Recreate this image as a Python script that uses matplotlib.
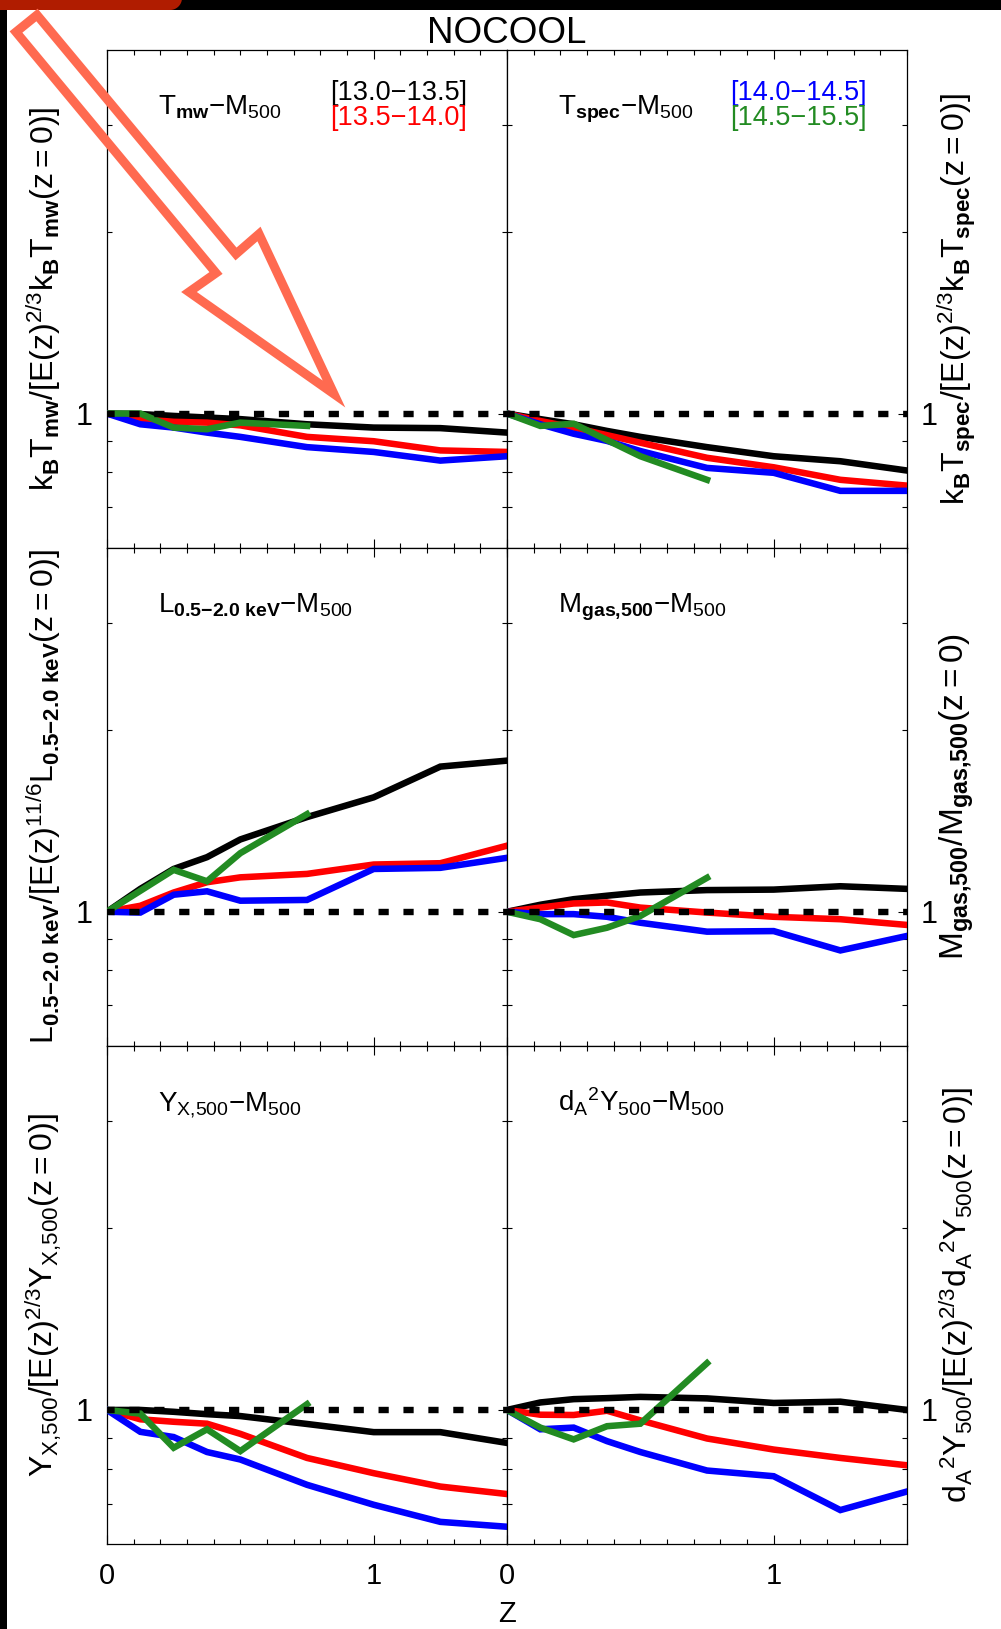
import numpy as np
import matplotlib
matplotlib.use("Agg")
import matplotlib.pyplot as plt
from matplotlib.ticker import FixedLocator, FixedFormatter, MultipleLocator, NullFormatter
from matplotlib.patches import Polygon, Rectangle

# ---------------------------------------------------------------- data
z = [0.0, 0.125, 0.25, 0.375, 0.5, 0.75, 1.0, 1.25, 1.5]
z_hi = [0.0, 0.125, 0.25, 0.375, 0.5, 0.75]   # most massive bin stops at z=0.75

mass_bins = ["[13.0\u221213.5]", "[13.5\u221214.0]", "[14.0\u221214.5]", "[14.5\u221215.5]"]
bin_colors = ["black", "#FF0000", "#0000FF", "#228B22"]

tmw_b = [1.0, 0.998, 0.991, 0.985, 0.979, 0.960, 0.948, 0.946, 0.930]
tmw_r = [1.0, 0.979, 0.969, 0.966, 0.956, 0.915, 0.900, 0.869, 0.864]
tmw_u = [1.0, 0.960, 0.948, 0.930, 0.915, 0.880, 0.864, 0.836, 0.850]
tmw_g = [1.0, 1.0, 0.948, 0.942, 0.966, 0.954]

tsp_b = [1.0, 0.979, 0.960, 0.936, 0.915, 0.880, 0.850, 0.834, 0.805]
tsp_r = [1.0, 0.972, 0.948, 0.921, 0.895, 0.845, 0.815, 0.777, 0.760]
tsp_u = [1.0, 0.960, 0.926, 0.901, 0.867, 0.813, 0.798, 0.745, 0.745]
tsp_g = [1.0, 0.954, 0.962, 0.904, 0.850, 0.777]

lx_b = [1.0, 1.091, 1.177, 1.231, 1.317, 1.434, 1.546, 1.738, 1.778]
lx_r = [1.0, 1.023, 1.076, 1.119, 1.140, 1.155, 1.197, 1.203, 1.286]
lx_u = [1.0, 0.997, 1.067, 1.081, 1.043, 1.046, 1.177, 1.182, 1.228]
lx_g = [1.0, 1.083, 1.173, 1.123, 1.250, 1.450]

mg_b = [1.0, 1.027, 1.049, 1.063, 1.076, 1.086, 1.088, 1.102, 1.091]
mg_r = [1.0, 1.016, 1.032, 1.036, 1.016, 0.997, 0.981, 0.972, 0.951]
mg_u = [1.0, 0.991, 0.991, 0.981, 0.959, 0.927, 0.929, 0.863, 0.912]
mg_g = [1.0, 0.972, 0.915, 0.941, 0.984, 1.138]

yx_b = [1.0, 1.0, 0.993, 0.984, 0.977, 0.948, 0.919, 0.919, 0.882]
yx_r = [1.0, 0.965, 0.956, 0.949, 0.913, 0.833, 0.786, 0.747, 0.726]
yx_u = [1.0, 0.920, 0.902, 0.852, 0.828, 0.752, 0.697, 0.653, 0.641]
yx_g = [1.0, 0.986, 0.866, 0.929, 0.855, 1.022]

ysz_b = [1.0, 1.029, 1.042, 1.046, 1.051, 1.045, 1.027, 1.032, 1.0]
ysz_r = [1.0, 0.982, 0.981, 0.997, 0.961, 0.897, 0.860, 0.833, 0.810]
ysz_u = [1.0, 0.929, 0.935, 0.888, 0.852, 0.794, 0.777, 0.683, 0.733]
ysz_g = [1.0, 0.935, 0.894, 0.940, 0.949, 1.195]

panel_titles = [
    r"$\mathrm{T_{\mathbf{mw}}{-}M_{500}}$",
    r"$\mathrm{T_{\mathbf{spec}}{-}M_{500}}$",
    r"$\mathrm{L_{\mathbf{0.5{-}2.0\ keV}}{-}M_{500}}$",
    r"$\mathrm{M_{\mathbf{gas{,}500}}{-}M_{500}}$",
    r"$\mathrm{Y_{X{,}500}{-}M_{500}}$",
    r"$\mathrm{d_A{}^2Y_{500}{-}M_{500}}$",
]
y_labels = [
    r"$\mathrm{k_{\mathbf{B}}T_{\mathbf{mw}}/[E(z)^{2/3}k_{\mathbf{B}}T_{\mathbf{mw}}(z{=}0)]}$",
    r"$\mathrm{k_{\mathbf{B}}T_{\mathbf{spec}}/[E(z)^{2/3}k_{\mathbf{B}}T_{\mathbf{spec}}(z{=}0)]}$",
    r"$\mathrm{L_{\mathbf{0.5{-}2.0\ keV}}/[E(z)^{11/6}L_{\mathbf{0.5{-}2.0\ keV}}(z{=}0)]}$",
    r"$\mathrm{M_{\mathbf{gas{,}500}}/M_{\mathbf{gas{,}500}}(z{=}0)}$",
    r"$\mathrm{Y_{X{,}500}/[E(z)^{2/3}Y_{X{,}500}(z{=}0)]}$",
    r"$\mathrm{d_A{}^2Y_{500}/[E(z)^{2/3}d_A{}^2Y_{500}(z{=}0)]}$",
]
y_label_size = [23, 23, 23, 24, 23, 23]
panel_series = [
    (tmw_b, tmw_r, tmw_u, tmw_g),
    (tsp_b, tsp_r, tsp_u, tsp_g),
    (lx_b, lx_r, lx_u, lx_g),
    (mg_b, mg_r, mg_u, mg_g),
    (yx_b, yx_r, yx_u, yx_g),
    (ysz_b, ysz_r, ysz_u, ysz_g),
]

# ---------------------------------------------------------------- fonts
FONT = "Liberation Sans"
plt.rcParams["font.family"] = [FONT, "DejaVu Sans"]
plt.rcParams["mathtext.fontset"] = "custom"
plt.rcParams["mathtext.rm"] = FONT
plt.rcParams["mathtext.it"] = FONT
plt.rcParams["mathtext.sf"] = FONT
plt.rcParams["mathtext.bf"] = FONT + ":bold"

W, H = 1001, 1629
fig = plt.figure(figsize=(W / 100, H / 100), dpi=100)
fig.patch.set_facecolor("white")


def fx(px):
    return px / W


def fy(py):
    return 1 - py / H


# ---------------------------------------------------------------- panels
left_x = [107, 507]
panel_w = 400
top_y = [49.5, 547.7, 1045.9]
panel_h = 498.2

axes = []
for row in range(3):
    for col in range(2):
        ax = fig.add_axes([fx(left_x[col]), fy(top_y[row] + panel_h),
                           fx(panel_w), panel_h / H])
        axes.append(ax)

for i, ax in enumerate(axes):
    row, col = divmod(i, 2)
    blk, red, blu, grn = panel_series[i]
    for ys, c in zip((blk, red, blu), bin_colors[:3]):
        ax.plot(z, ys, color=c, lw=4.7, solid_joinstyle="miter", zorder=3)
    ax.plot(z_hi, grn, color=bin_colors[3], lw=4.7, solid_joinstyle="miter", zorder=4)
    ax.axhline(1.0, color="black", lw=4.6, ls=(0.4, (1.6, 2.3)), zorder=5)

    ax.set_yscale("log")
    ax.set_ylim(0.6, 4.0)
    ax.set_xlim(0, 1.5)
    ax.yaxis.set_major_locator(FixedLocator([1.0]))
    ax.yaxis.set_major_formatter(FixedFormatter(["1"]))
    ax.yaxis.set_minor_locator(FixedLocator([0.7, 0.8, 0.9, 2.0, 3.0]))
    ax.yaxis.set_minor_formatter(NullFormatter())
    ax.xaxis.set_major_locator(FixedLocator([0.0, 1.0]))
    ax.xaxis.set_major_formatter(FixedFormatter(["0", "1"]))
    ax.xaxis.set_minor_locator(MultipleLocator(0.1))

    ax.tick_params(which="both", direction="in", top=True, bottom=True,
                   left=True, right=True, width=0.8, colors="black")
    ax.tick_params(which="major", length=6.5)
    ax.tick_params(which="minor", length=3.4)
    ax.tick_params(axis="y", which="major", labelsize=22, pad=10)
    ax.tick_params(axis="x", which="major", labelsize=21, pad=13)
    ax.tick_params(labelbottom=(row == 2),
                   labelleft=(col == 0), labelright=(col == 1))
    for sp in ax.spines.values():
        sp.set_linewidth(0.9)

    ax.text(0.1275, 0.869, panel_titles[i], transform=ax.transAxes,
            fontsize=20, ha="left", va="baseline")

    yc = top_y[row] + panel_h / 2
    xl = 44 if col == 0 else 957
    fig.text(fx(xl), fy(yc), y_labels[i], rotation=90, fontsize=y_label_size[i],
             ha="center", va="center")

# mass-bin key in the top row
for col, (k0, k1) in enumerate([(0, 1), (2, 3)]):
    ax = axes[col]
    ax.text(0.5575, 0.8986, mass_bins[k0], color=bin_colors[k0],
            transform=ax.transAxes, fontsize=19.5, ha="left", va="baseline")
    ax.text(0.5575, 0.8484, mass_bins[k1], color=bin_colors[k1],
            transform=ax.transAxes, fontsize=19.5, ha="left", va="baseline")

fig.text(fx(507), fy(43), "NOCOOL", fontsize=26.5, ha="center", va="baseline")
fig.text(fx(507), fy(1622), "Z", fontsize=21, ha="center", va="baseline")

# ---------------------------------------------------------------- frame decorations
fig.add_artist(Rectangle((0, fy(10)), 1, 10 / H, transform=fig.transFigure,
                         facecolor="black", edgecolor="none", zorder=10))
fig.add_artist(Rectangle((0, 0), fx(7), 1, transform=fig.transFigure,
                         facecolor="black", edgecolor="none", zorder=10))

r = 12
theta = np.linspace(0, np.pi / 2, 20)
corner = ([(182, 0), (182, 10 - r)]
          + [(182 - r + r * np.cos(t), 10 - r + r * np.sin(t)) for t in theta]
          + [(0, 10), (0, 0)])
fig.add_artist(Polygon([(fx(x), fy(y)) for x, y in corner], closed=True,
                       transform=fig.transFigure, facecolor="#B01C00",
                       edgecolor="none", zorder=11))

arrow_px = [(16, 32), (37, 15), (236, 254), (259, 234), (334, 394),
            (189, 292), (216, 273)]
fig.add_artist(Polygon([(fx(x), fy(y)) for x, y in arrow_px], closed=True,
                       transform=fig.transFigure, facecolor="none",
                       edgecolor="#FF6A50", lw=6.5, joinstyle="miter", zorder=12))

fig.savefig("out.png", dpi=100, facecolor="white")
